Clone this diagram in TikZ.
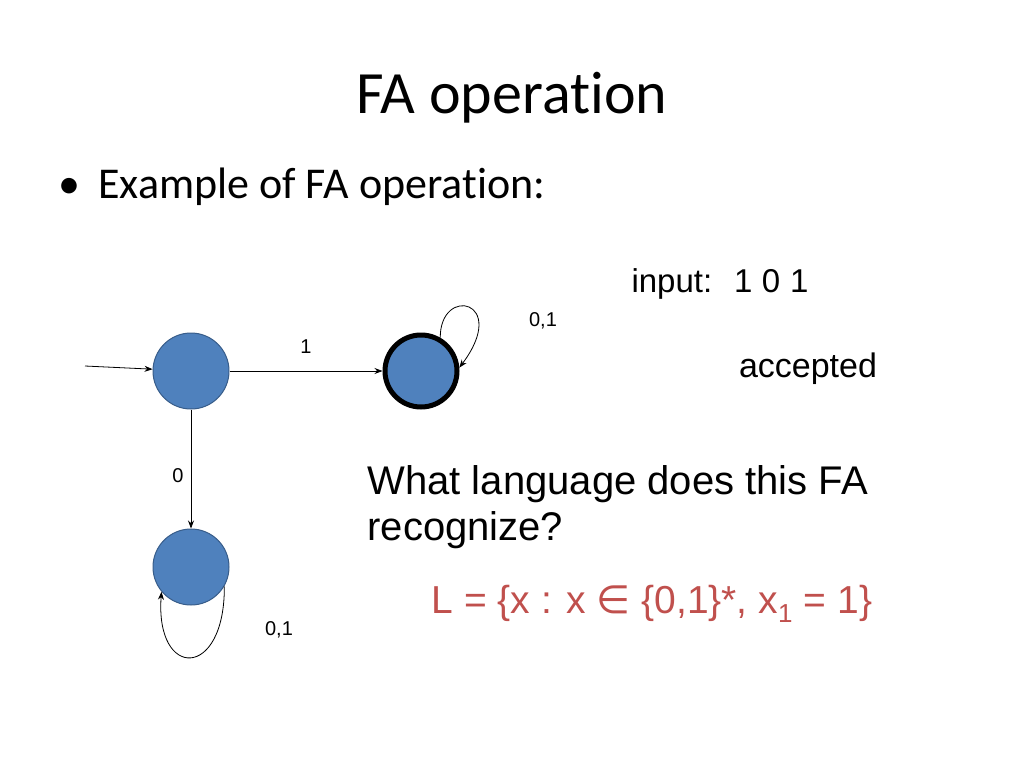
\documentclass[tikz,border=0pt]{standalone}
\usepackage{fontspec}
\setmainfont{Liberation Sans}
\newfontfamily\calfont[Ligatures=NoCommon]{Carlito}
\newfontfamily\dvfont{DejaVu Sans}
\usetikzlibrary{arrows.meta}
\definecolor{stfill}{HTML}{4F81BD}
\definecolor{stline}{HTML}{385D8A}
\definecolor{lred}{HTML}{C0504D}
\begin{document}
\begin{tikzpicture}[x=1pt,y=-1pt,
  st/.style={circle,fill=stfill,draw=stline,line width=1pt,minimum size=76pt,inner sep=0pt},
  edge/.style={-{Stealth[length=8pt,width=6pt]},line width=0.8pt},
  lab/.style={font=\fontsize{20}{24}\selectfont,inner sep=0pt}]
\useasboundingbox (0,0) rectangle (1024,768);
\node[font=\calfont\fontsize{60}{70}\selectfont] (title) at (512,98) {FA operation};
\node[font=\calfont\fontsize{44}{52}\selectfont,anchor=west] (bul) at (55,187) {\textbullet\hspace{18pt}Example of FA operation:};
\node[st] (q0) at (191,371) {};
\node[st,draw=black,line width=5pt,minimum size=72pt] (q1) at (421,371) {};
\node[st] (q2) at (191,567) {};
\coordinate (s) at (85,366);
\draw[edge] (s) -- (q0);
\draw[edge] (q0) -- (q1);
\draw[edge] (q0) -- (q2);
\draw[edge] (q1.60) .. controls (440,285) and (510,300) .. (q1.5);
\draw[edge] (q2.-30) .. controls (225,680) and (155,680) .. (q2.-140);
\node[lab] (l1) at (306,347) {1};
\node[lab] (l0) at (178,476) {0};
\node[lab] (l01a) at (543,321) {0,1};
\node[lab] (l01b) at (279,630) {0,1};
\node[anchor=west,font=\fontsize{33}{40}\selectfont] (inp) at (628,284) {input:\hspace{22pt}1 0\hspace{10pt}1};
\node[font=\fontsize{34}{40}\selectfont] (acc) at (808,369) {accepted};
\node[anchor=west,font=\fontsize{40}{46}\selectfont,align=left] (q) at (364,507) {What language does this FA\\recognize?};
\node[anchor=west,text=lred,font=\fontsize{39}{43}\selectfont] (L) at (428,604) {L = \{x : x {\dvfont∈} \{0,1\}*, x$_{\mbox{\fontsize{26}{26}\selectfont 1}}$ = 1\}};
\end{tikzpicture}
\end{document}
